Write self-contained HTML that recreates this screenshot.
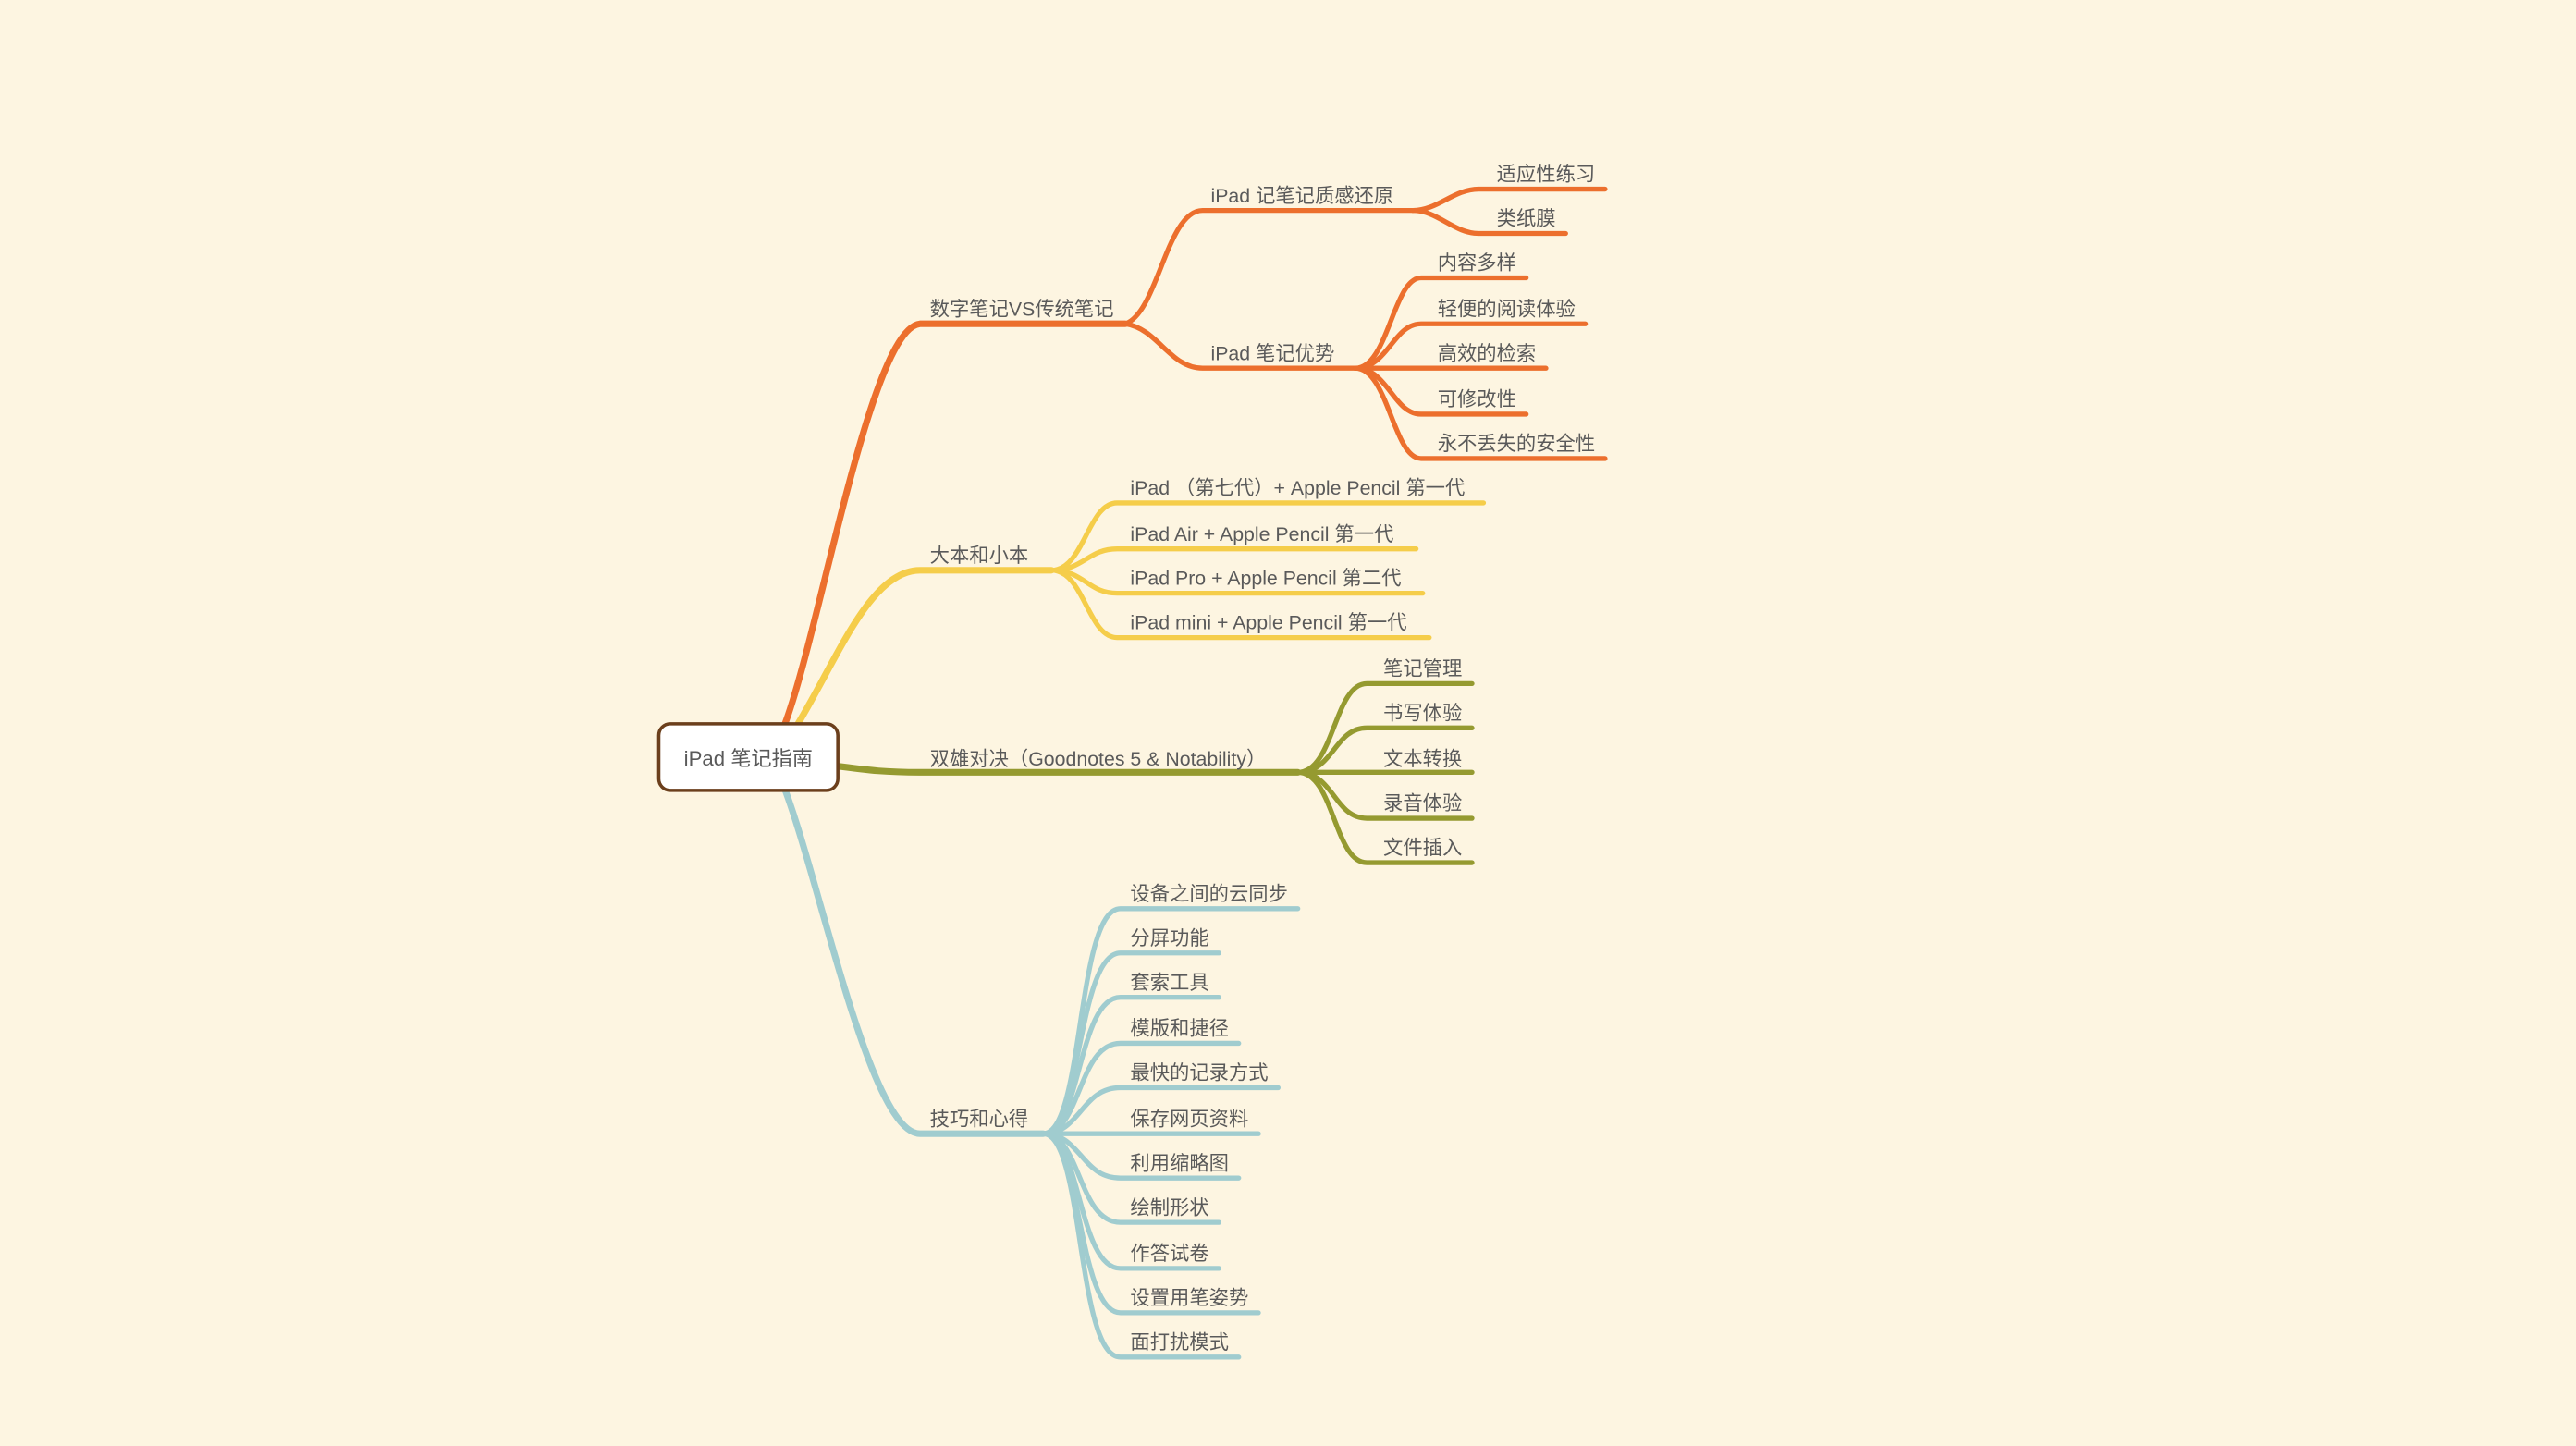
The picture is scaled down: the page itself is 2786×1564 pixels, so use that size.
<!DOCTYPE html>
<html><head><meta charset="utf-8"><style>
html,body{margin:0;padding:0;background:#fdf5e1;}
svg{display:block;}
text{font-family:"Liberation Sans","Noto Sans CJK SC",sans-serif;font-size:12px;fill:#5a5a5a;}
</style></head><body>
<svg width="2786" height="1564" viewBox="0 0 1568 880" xmlns="http://www.w3.org/2000/svg">
<rect width="1568" height="880" fill="#fdf5e1"/>
<g fill="none" stroke-linecap="round">
<path d="M478 440 C500 380 530 200 560 197 L685 197" stroke="#ec6f2d" stroke-width="4"/>
<path d="M685 197 C705 190 710 128 732 128 L860 128" stroke="#ec6f2d" stroke-width="3"/>
<path d="M685 197 C705 200 712 224 732 224 L825 224" stroke="#ec6f2d" stroke-width="3"/>
<path d="M860 128 C875 128 885 115 900 115 L977 115" stroke="#ec6f2d" stroke-width="3"/>
<path d="M860 128 C875 128 885 142 900 142 L953 142" stroke="#ec6f2d" stroke-width="3"/>
<path d="M825 224 C845 224 848 169 865 169 L929 169" stroke="#ec6f2d" stroke-width="3"/>
<path d="M825 224 C845 224 848 197 865 197 L965 197" stroke="#ec6f2d" stroke-width="3"/>
<path d="M825 224 L941 224" stroke="#ec6f2d" stroke-width="3"/>
<path d="M825 224 C845 224 848 252 865 252 L929 252" stroke="#ec6f2d" stroke-width="3"/>
<path d="M825 224 C845 224 848 279 865 279 L977 279" stroke="#ec6f2d" stroke-width="3"/>
<path d="M486 440 C510 400 530 347 560 347 L640 347" stroke="#f5cd4a" stroke-width="4"/>
<path d="M640 347 C660 347 662 306 680 306 L903 306" stroke="#f5cd4a" stroke-width="3"/>
<path d="M640 347 C660 347 662 334 680 334 L862 334" stroke="#f5cd4a" stroke-width="3"/>
<path d="M640 347 C660 347 662 361 680 361 L866 361" stroke="#f5cd4a" stroke-width="3"/>
<path d="M640 347 C660 347 662 388 680 388 L870 388" stroke="#f5cd4a" stroke-width="3"/>
<path d="M508 466 C530 469 540 470 560 470 L790 470" stroke="#959a30" stroke-width="4"/>
<path d="M790 470 C812 470 812 416 832 416 L896 416" stroke="#959a30" stroke-width="3"/>
<path d="M790 470 C812 470 812 443 832 443 L896 443" stroke="#959a30" stroke-width="3"/>
<path d="M790 470 L896 470" stroke="#959a30" stroke-width="3"/>
<path d="M790 470 C812 470 812 498 832 498 L896 498" stroke="#959a30" stroke-width="3"/>
<path d="M790 470 C812 470 812 525 832 525 L896 525" stroke="#959a30" stroke-width="3"/>
<path d="M478 481 C500 540 530 690 560 690 L635 690" stroke="#a0cccf" stroke-width="4"/>
<g stroke="#a0cccf" stroke-width="3">
<path d="M635 690 C660 690 655 553 682 553 L790 553"/>
<path d="M635 690 C658 690 656 580 682 580 L742 580"/>
<path d="M635 690 C658 690 656 607 682 607 L742 607"/>
<path d="M635 690 C658 690 656 635 682 635 L754 635"/>
<path d="M635 690 C658 690 658 662 682 662 L778 662"/>
<path d="M635 690 L766 690"/>
<path d="M635 690 C658 690 658 717 682 717 L754 717"/>
<path d="M635 690 C658 690 656 744 682 744 L742 744"/>
<path d="M635 690 C658 690 656 772 682 772 L742 772"/>
<path d="M635 690 C658 690 656 799 682 799 L766 799"/>
<path d="M635 690 C660 690 655 826 682 826 L754 826"/>
</g>
</g>
<rect x="401" y="440.5" width="109" height="40.5" rx="7" fill="#fff" stroke="#6b3f1c" stroke-width="2"/>
<text x="455.5" y="466" text-anchor="middle" style="font-size:12.5px">iPad 笔记指南</text>
<g transform="translate(0,1)">
<text x="566" y="191">数字笔记VS传统笔记</text>
<text x="737" y="122">iPad 记笔记质感还原</text>
<text x="911" y="109">适应性练习</text>
<text x="911" y="136">类纸膜</text>
<text x="737" y="218">iPad 笔记优势</text>
<text x="875" y="163">内容多样</text>
<text x="875" y="191">轻便的阅读体验</text>
<text x="875" y="218">高效的检索</text>
<text x="875" y="246">可修改性</text>
<text x="875" y="273">永不丢失的安全性</text>
<text x="566" y="341">大本和小本</text>
<text x="688" y="300">iPad （第七代）+ Apple Pencil 第一代</text>
<text x="688" y="328">iPad Air + Apple Pencil 第一代</text>
<text x="688" y="355">iPad Pro + Apple Pencil 第二代</text>
<text x="688" y="382">iPad mini + Apple Pencil 第一代</text>
<text x="566" y="465">双雄对决（Goodnotes 5 &amp; Notability）</text>
<text x="842" y="410">笔记管理</text>
<text x="842" y="437">书写体验</text>
<text x="842" y="465">文本转换</text>
<text x="842" y="492">录音体验</text>
<text x="842" y="519">文件插入</text>
<text x="566" y="684">技巧和心得</text>
<text x="688" y="547">设备之间的云同步</text>
<text x="688" y="574">分屏功能</text>
<text x="688" y="601">套索工具</text>
<text x="688" y="629">模版和捷径</text>
<text x="688" y="656">最快的记录方式</text>
<text x="688" y="684">保存网页资料</text>
<text x="688" y="711">利用缩略图</text>
<text x="688" y="738">绘制形状</text>
<text x="688" y="766">作答试卷</text>
<text x="688" y="793">设置用笔姿势</text>
<text x="688" y="820">面打扰模式</text>
</g>
</svg>
</body></html>
